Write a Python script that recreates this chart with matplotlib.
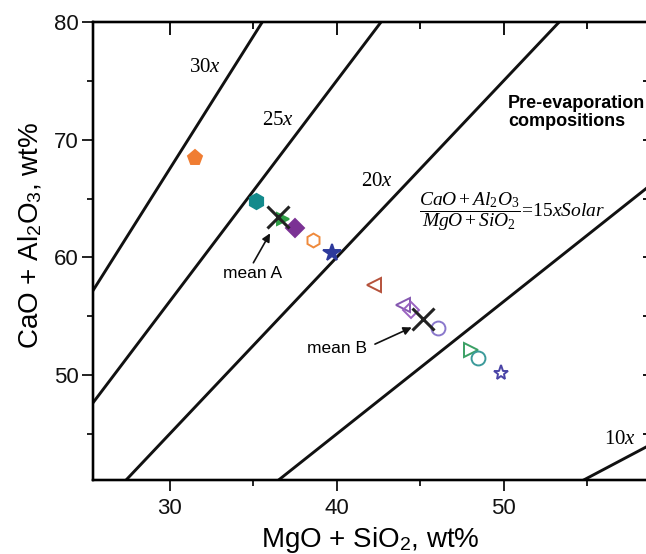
import matplotlib
matplotlib.use("Agg")
import matplotlib.pyplot as plt
from matplotlib.ticker import MultipleLocator

plt.rcParams['font.family'] = ['Liberation Sans', 'DejaVu Sans']
plt.rcParams['mathtext.fontset'] = 'custom'
plt.rcParams['mathtext.rm'] = 'Liberation Serif'
plt.rcParams['mathtext.it'] = 'Liberation Serif:italic'
plt.rcParams['mathtext.sf'] = 'Liberation Sans'

# solar (CaO+Al2O3)/(MgO+SiO2) ratio and enrichment factors of the guide lines
solar_ratio = 0.075
factors = [30, 25, 20, 15, 10]

# samples (MgO+SiO2, CaO+Al2O3 in wt%)
mgo_sio2 = [31.5, 35.2, 36.8, 37.5, 38.6, 39.7, 42.25, 44.0, 44.45, 46.05, 48.05, 48.45, 49.85]
cao_al2o3 = [68.45, 64.8, 63.3, 62.5, 61.5, 60.35, 57.7, 55.95, 55.55, 54.05, 52.1, 51.5, 50.2]

# means
mean_labels = ['mean A', 'mean B']
mean_x = [36.5, 45.2]
mean_y = [63.4, 54.8]

# marker style per sample: (marker, face, edge)
styles = [
    ('p', '#f07d32', '#f07d32'),
    ('h', '#138a8c', '#138a8c'),
    ('>', '#2f9e46', '#2f9e46'),
    ('D', '#7b3294', '#7b3294'),
    ('h', 'none', '#ef8a3c'),
    ('*', '#2d3a9c', '#2d3a9c'),
    ('<', 'none', '#b5523b'),
    ('<', 'none', '#8558b0'),
    ('D', 'none', '#9a62c0'),
    ('o', 'none', '#8a78cc'),
    ('>', 'none', '#3aa064'),
    ('o', 'none', '#3c9a9a'),
    ('*', 'none', '#4a44a6'),
]
sizes = [11, 11, 9, 9, 10, 13, 10, 10, 8, 10, 10, 10, 11]

fig = plt.figure(figsize=(6.46, 5.54), dpi=100)
ax = fig.add_axes([92.7 / 646, 74 / 554, (648 - 92.7) / 646, 458 / 554])

xmin, xmax = 25.4, 58.65
ymin, ymax = 41.1, 80.0

# ratio lines through the origin
for f in factors:
    k = f * solar_ratio
    ax.plot([0, 100], [0, 100 * k], color='#111111', lw=2.1, zorder=1)

line_labels = ['30', '25', '20', '10']
label_pos = [(32.13, 76.2), (36.52, 71.76), (42.45, 66.5), (56.95, 44.63)]
for lab, (lx, ly) in zip(line_labels, label_pos):
    ax.text(lx, ly, r'$\mathrm{%s}x$' % lab, fontsize=15, ha='center', va='center')

# samples
for x, y, (m, fc, ec), s in zip(mgo_sio2, cao_al2o3, styles, sizes):
    ax.plot(x, y, marker=m, ms=s, mfc=fc, mec=ec, mew=1.4, ls='none', zorder=3)

# means
ax.plot(mean_x, mean_y, marker='x', ms=16, mew=2.2, color='#222222', ls='none', zorder=4)

ax.text(35.0, 58.6, mean_labels[0], fontsize=12.5, ha='center', va='center')
ax.annotate('', xy=(36.02, 62.05), xytext=(35.02, 59.55),
            arrowprops=dict(arrowstyle='-|>', color='#111111', lw=1.2,
                            mutation_scale=12, shrinkA=0, shrinkB=0))
ax.text(40.0, 52.3, mean_labels[1], fontsize=12.5, ha='center', va='center')
ax.annotate('', xy=(44.5, 54.06), xytext=(42.3, 52.64),
            arrowprops=dict(arrowstyle='-|>', color='#111111', lw=1.2,
                            mutation_scale=12, shrinkA=0, shrinkB=0))

ax.text(50.27, 72.3, 'Pre-evaporation\ncompositions', fontsize=13,
        fontweight='bold', ha='left', va='center', linespacing=1.1)

ax.text(44.94, 63.9,
        r'$\dfrac{CaO + Al_2O_3}{MgO + SiO_2}\!=\!\mathrm{15}xSolar$',
        fontsize=14, ha='left', va='center')

ax.set_xlim(xmin, xmax)
ax.set_ylim(ymin, ymax)

for axis in [ax.xaxis, ax.yaxis]:
    axis.set_major_locator(MultipleLocator(10))
    axis.set_minor_locator(MultipleLocator(5))

ax.tick_params(which='both', width=1.3, labelsize=16, colors='#111111', direction='out')
ax.tick_params(which='major', length=8)
ax.tick_params(which='minor', length=4.5)
ax.tick_params(axis='x', pad=5)
ax.tick_params(axis='y', pad=2)

# top and right ticks point inward, without labels
ax2 = ax.twiny()
ax2.set_xlim(xmin, xmax)
ax3 = ax.twinx()
ax3.set_ylim(ymin, ymax)
for a, axis in [(ax2, ax2.xaxis), (ax3, ax3.yaxis)]:
    axis.set_major_locator(MultipleLocator(10))
    axis.set_minor_locator(MultipleLocator(5))
    a.tick_params(which='both', direction='in', width=1.3, labeltop=False, labelright=False)
ax2.tick_params(which='major', length=9)
ax2.tick_params(which='minor', length=5)
ax3.tick_params(which='both', length=3.5)
for a in [ax, ax2, ax3]:
    for side in ['left', 'bottom', 'top']:
        a.spines[side].set_linewidth(1.6)
    a.spines['right'].set_visible(False)

ax.set_xlabel(r'MgO + SiO$_\mathsf{2}$, wt%', fontsize=20, labelpad=4)
ax.set_ylabel(r'CaO + Al$_\mathsf{2}$O$_\mathsf{3}$, wt%', fontsize=20)
ax.yaxis.set_label_coords(-0.088, 0.533)

fig.savefig('out.png', dpi=100)
